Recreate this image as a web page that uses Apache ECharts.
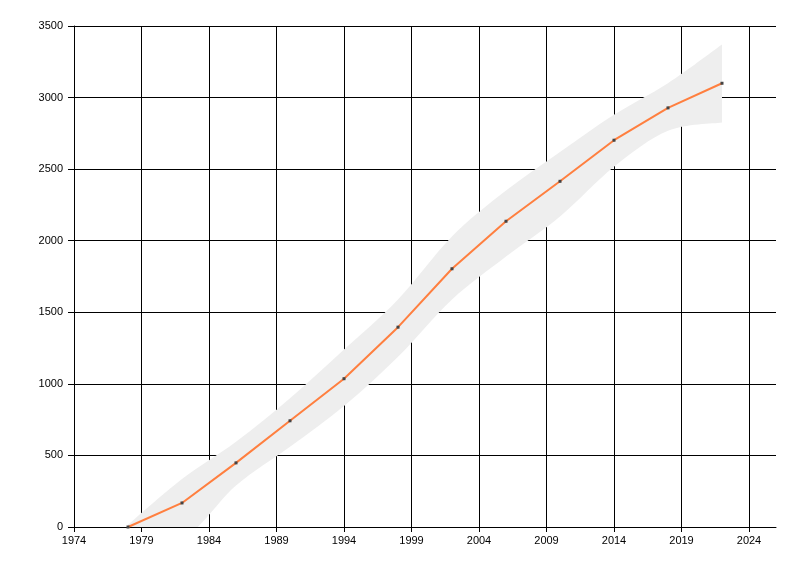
<!DOCTYPE html>
<html>
<head>
<meta charset="utf-8">
<script src="https://cdn.jsdelivr.net/npm/echarts@6/dist/echarts.min.js"></script>
<style>html,body{margin:0;padding:0;background:#fff}#c{width:800px;height:576px}</style>
</head>
<body>
<div id="c"></div>
<script>
var years = [1978, 1982, 1986, 1990, 1994, 1998, 2002, 2006, 2010, 2014, 2018, 2022];
var values = [0, 168, 448, 742, 1036, 1396, 1804, 2136, 2415, 2702, 2928, 3100];
var upperBound = [15, 335, 595, 900, 1240, 1590, 2030, 2350, 2620, 2880, 3100, 3370];
var lowerBound = [-20, -80, 290, 560, 845, 1190, 1590, 1890, 2170, 2517, 2768, 2826];

var linePts = years.map(function (y, i) { return [y, values[i]]; });

function bezierSeg(pts, reverse) {
  var p = reverse ? pts.slice().reverse() : pts;
  var s = 1 / 6, d = '';
  for (var i = 0; i < p.length - 1; i++) {
    var p0 = p[i - 1] || p[i], p1 = p[i], p2 = p[i + 1], p3 = p[i + 2] || p[i + 1];
    var c1 = [p1[0] + (p2[0] - p0[0]) * s, p1[1] + (p2[1] - p0[1]) * s];
    var c2 = [p2[0] - (p3[0] - p1[0]) * s, p2[1] - (p3[1] - p1[1]) * s];
    d += ' C' + c1[0] + ' ' + c1[1] + ' ' + c2[0] + ' ' + c2[1] + ' ' + p2[0] + ' ' + p2[1];
  }
  return d;
}

function renderBand(params, api) {
  var up = years.map(function (y, i) { return api.coord([y, upperBound[i]]); });
  var lo = years.map(function (y, i) { return api.coord([y, lowerBound[i]]); });
  var n = years.length - 1;
  var d = 'M' + up[0][0] + ' ' + up[0][1] + bezierSeg(up, false) +
          ' L' + lo[n][0] + ' ' + lo[n][1] + bezierSeg(lo, true) + ' Z';
  return {
    type: 'path',
    shape: { pathData: d },
    style: { fill: '#eeeeee', stroke: null }
  };
}

var font = 'Liberation Sans';
var chart = echarts.init(document.getElementById('c'));
chart.setOption({
  animation: false,
  backgroundColor: '#fff',
  grid: { left: 74, right: 24, top: 26, bottom: 49 },
  xAxis: {
    type: 'value', min: 1974, max: 2026, interval: 5,
    axisLine: { show: true, lineStyle: { color: '#000', width: 1 } },
    axisTick: { show: true, length: 5, lineStyle: { color: '#000' } },
    axisLabel: { color: '#000', fontFamily: font, fontSize: 11, margin: 8, showMaxLabel: false,
      formatter: function (v) { return (v - 1974) % 5 === 0 ? String(v) : ''; } },
    splitLine: { show: true, showMaxLine: false, lineStyle: { color: '#000', width: 1 } }
  },
  yAxis: {
    type: 'value', min: 0, max: 3500, interval: 500,
    axisLine: { show: true, lineStyle: { color: '#000', width: 1 } },
    axisTick: { show: true, length: 6, lineStyle: { color: '#000' } },
    axisLabel: { color: '#000', fontFamily: font, fontSize: 11, margin: 11,
      formatter: function (v) { return String(v); } },
    splitLine: { show: true, lineStyle: { color: '#000', width: 1 } }
  },
  series: [
    { type: 'custom', data: [[years[0], values[0]]], renderItem: renderBand, clip: true, silent: true, z: 2 },
    { type: 'line', data: linePts, symbol: 'rect', symbolSize: 3,
      itemStyle: { color: '#444' }, lineStyle: { color: '#ff7f3f', width: 2 }, z: 3 }
  ]
});
</script>
</body>
</html>
